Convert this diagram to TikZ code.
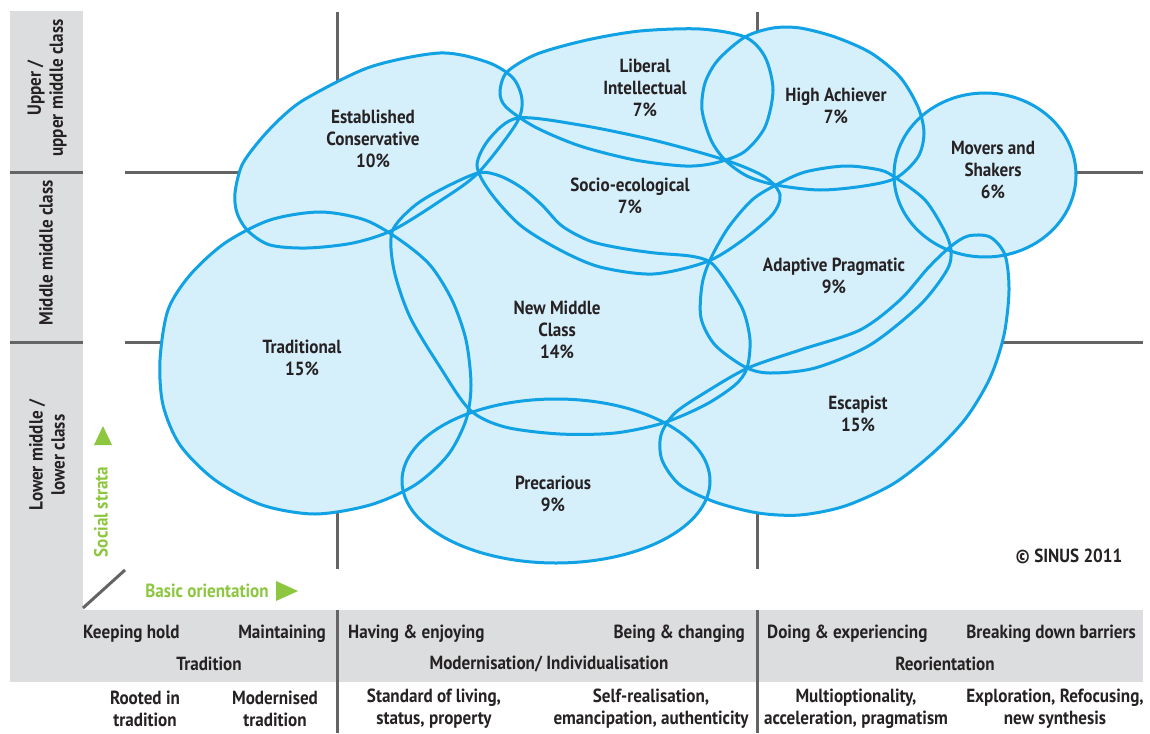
\documentclass[tikz,border=0pt]{standalone}
\usepackage{fontspec}
\setmainfont{PT Sans}[FakeStretch=0.9]
\definecolor{blobfill}{RGB}{213,239,251}
\definecolor{blobline}{RGB}{16,162,228}
\definecolor{bandgrey}{RGB}{220,221,222}
\definecolor{gridgrey}{RGB}{100,100,100}
\definecolor{grn}{RGB}{141,198,63}
\definecolor{txt}{RGB}{38,34,35}
\newcommand\allblobs[1]{%
 % Established Conservative
 \path[#1] plot[smooth cycle] coordinates {(235,193) (242,165) (260,140) (282,117) (307,98) (370,67) (440,53) (487,62) (513,78) (522,100) (516,124) (478,173) (440,201) (393,230) (353,243) (307,248) (270,245) (248,231) (237,213)};
 % Traditional
 \path[#1] plot[smooth cycle] coordinates {(160,360) (168,310) (190,275) (225,243) (270,220) (320,212) (365,220) (400,240) (430,265) (452,300) (466,340) (471,385) (466,420) (448,455) (415,485) (370,505) (315,514) (262,505) (215,480) (180,445) (163,405)};
 % New Middle Class
 \path[#1] plot[smooth cycle] coordinates {(392,232) (413,207) (440,190) (478,173) (500,176) (522,188) (542,205) (562,226) (590,241) (620,248) (655,253) (690,256) (710,262) (725,280) (743,310) (750,340) (747,368) (735,385) (705,405) (663,423) (615,433) (560,434) (505,427) (470,410) (440,367) (410,317) (394,270)};
 % Socio-ecological
 \path[#1] plot[smooth cycle] coordinates {(518,118) (580,125) (653,140) (725,160) (765,177) (780,195) (772,215) (740,242) (706,262) (653,274) (600,267) (560,250) (520,225) (490,192) (477,165) (490,138)};
 % Liberal Intellectual
 \path[#1] plot[smooth cycle] coordinates {(500,92) (507,72) (537,54) (587,40) (640,31) (700,29) (745,37) (765,57) (773,90) (765,127) (744,152) (715,163) (685,166) (635,160) (580,146) (535,127) (506,107)};
 % High Achiever
 \path[#1] plot[smooth cycle] coordinates {(745,37) (773,28) (800,28) (835,37) (871,53) (900,77) (918,107) (924,133) (918,157) (896,178) (864,186) (820,190) (776,185) (747,176) (725,160) (711,140) (702,110) (705,83) (718,60)};
 % Adaptive Pragmatic
 \path[#1] plot[smooth cycle] coordinates {(776,185) (805,172) (845,166) (880,170) (896,178) (925,200) (944,230) (951,250) (947,270) (920,305) (870,345) (815,368) (770,373) (745,367) (715,345) (701,318) (702,285) (710,260) (728,228) (752,200)};
 % Movers and Shakers
 \path[#1] (985,175) ellipse [x radius=91pt, y radius=82pt];
 % Escapist
 \path[#1] plot[smooth cycle] coordinates {(950,247) (968,236) (990,237) (1005,255) (1009,290) (1004,335) (990,378) (966,418) (934,452) (893,484) (845,506) (800,515) (758,513) (715,502) (680,485) (662,460) (661,435) (675,413) (706,392) (748,368) (800,350) (860,330) (900,300) (928,268)};
 % Precarious
 \path[#1] (556,481) ellipse [x radius=154pt, y radius=82pt];
}
\begin{document}
\begin{tikzpicture}[x=1pt,y=-1pt,
  gridline/.style={draw=gridgrey,line width=3pt},
  lbl/.style={font=\bfseries\fontsize{19}{22}\selectfont,text=txt,align=center,inner sep=0pt},
  glbl/.style={lbl,text=grn},
  blobfillstyle/.style={fill=blobfill},
  blobdrawstyle/.style={draw=blobline,line width=3pt}]
\useasboundingbox (0,0) rectangle (1150,733);
\fill[white] (0,0) rectangle (1150,733);
% grey bands
\fill[bandgrey] (10,11) rectangle (83,682);
\fill[bandgrey] (10,610) rectangle (1143,682);
\draw[gridline] (10,172) -- (83,172);
\draw[gridline] (10,342) -- (83,342);
% grid lines
\draw[gridline] (337,12) -- (337,569);
\draw[gridline] (757,12) -- (757,569);
\draw[gridline] (125,172) -- (1143,172);
\draw[gridline] (125,342) -- (1143,342);
\draw[gridline] (337,610) -- (337,733);
\draw[gridline] (757,610) -- (757,733);
\draw[gridline] (83,608) -- (125,570);
% blobs
\allblobs{blobfillstyle}
\allblobs{blobdrawstyle}
% blob labels
\node[lbl] (ec) at (373,139) {Established\\Conservative\\10\%};
\node[lbl] (li) at (645,88) {Liberal\\Intellectual\\7\%};
\node[lbl] (ha) at (836,106) {High Achiever\\7\%};
\node[lbl] (ms) at (993,170) {Movers and\\Shakers\\6\%};
\node[lbl] (se) at (630,196) {Socio-ecological\\7\%};
\node[lbl] (ap) at (834,276) {Adaptive Pragmatic\\9\%};
\node[lbl] (nmc) at (557,330) {New Middle\\Class\\14\%};
\node[lbl] (tr) at (302,358) {Traditional\\15\%};
\node[lbl] (pr) at (553,494) {Precarious\\9\%};
\node[lbl] (es) at (858,414) {Escapist\\15\%};
\node[lbl] (cp) at (1069,556) {\textcopyright{} SINUS 2011};
% left column
\node[lbl,rotate=90] (up) at (47,88) {Upper /\\upper middle class};
\node[lbl,rotate=90] (mid) at (46,253) {Middle middle class};
\node[lbl,rotate=90] (low) at (47,455) {Lower middle /\\lower class};
\node[glbl,rotate=90] (ss) at (101,512) {Social strata};
\fill[grn] (94,445) -- (112,445) -- (103,426) -- cycle;
\node[glbl] (bo) at (207,591) {Basic orientation};
\fill[grn] (276,581) -- (276,601) -- (298,591) -- cycle;
% bottom band
\node[lbl,anchor=west] (kh) at (83,634) {Keeping hold};
\node[lbl,anchor=east] (mt) at (326,634) {Maintaining};
\node[lbl,anchor=west] (he) at (348,634) {Having \& enjoying};
\node[lbl,anchor=east] (bc) at (745,634) {Being \& changing};
\node[lbl,anchor=west] (de) at (767,634) {Doing \& experiencing};
\node[lbl,anchor=east] (bd) at (1136,634) {Breaking down barriers};
\node[lbl] (tra) at (209,664) {Tradition};
\node[lbl] (mod) at (549,664) {Modernisation/ Individualisation};
\node[lbl] (reo) at (945,664) {Reorientation};
\node[lbl] (r1) at (145,709) {Rooted in\\tradition};
\node[lbl] (r2) at (275,709) {Modernised\\tradition};
\node[lbl] (r3) at (434,709) {Standard of living,\\status, property};
\node[lbl] (r4) at (651,709) {Self-realisation,\\emancipation, authenticity};
\node[lbl] (r5) at (856,709) {Multioptionality,\\acceleration, pragmatism};
\node[lbl] (r6) at (1055,709) {Exploration, Refocusing,\\new synthesis};
\end{tikzpicture}
\end{document}
